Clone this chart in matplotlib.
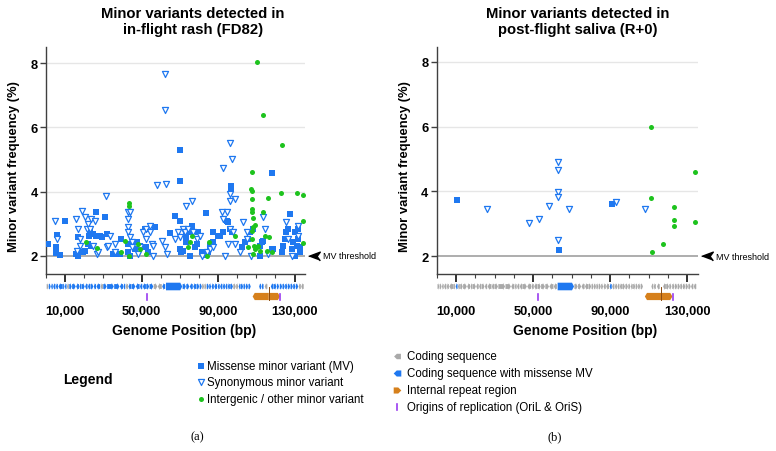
import numpy as np
import matplotlib
matplotlib.use('Agg')
import matplotlib.pyplot as plt
from matplotlib.patches import Polygon
from matplotlib.ticker import FixedLocator, FuncFormatter
from matplotlib.transforms import blended_transform_factory

plt.rcParams['font.family'] = ['Liberation Sans', 'DejaVu Sans']

BLUE = '#1f78f0'
GREEN = '#1ec31e'
GRAY = '#a9a9a9'
ORANGE = '#d6801c'
PURPLE = '#9a3cf0'

# ---- panel (a): in-flight rash FD82 ----
a_ms_x = [1220, 5230, 5230, 5500, 5900, 7300, 9930, 16000, 17000, 16550, 17800, 19500, 20400,
          22100, 22600, 23000, 23400, 24700, 26400, 28200, 29100, 26100, 30850, 31700, 35200,
          36600, 39500, 38700, 43000, 43000, 43900, 46500, 47400, 49100, 51800, 52600, 53500,
          57000, 67500, 70000, 64800, 70000, 70900, 71800, 73500, 73500, 76200, 75300, 75300,
          77900, 78800, 79700, 81400, 83100, 84900, 83700, 85800, 87500, 87500, 90100, 91000,
          92800, 94500, 95300, 96200, 97100, 96700, 96700, 102300, 104000, 105800, 106700,
          108400, 111900, 111900, 112800, 113600, 118000, 118900, 118200, 123200, 124100, 125000,
          125800, 126700, 127600, 128500, 129400, 130300, 130300, 131100, 131900, 131900,
          132800, 132800, 70000, 70100]
a_ms_y = [2.37, 2.27, 2.17, 2.09, 2.65, 2.03, 3.10, 2.06, 2.00, 2.58, 2.11, 2.11, 2.17,
          2.37, 2.63, 2.74, 2.30, 2.68, 2.63, 2.63, 2.58, 3.36, 3.20, 2.68, 2.06,
          2.06, 2.53, 2.06, 2.37, 2.11, 2.01, 2.22, 2.42, 2.32, 2.84, 2.27, 2.11,
          2.91, 3.25, 3.10, 2.70, 2.22, 2.11, 2.17, 2.42, 2.63, 2.94, 2.74, 1.99,
          2.27, 2.37, 2.74, 2.11, 2.03, 2.11, 3.34, 2.32, 2.42, 2.74, 2.63, 2.63,
          2.74, 3.10, 3.05, 2.84, 2.74, 4.18, 4.10, 2.27, 2.42, 2.53, 2.74,
          2.84, 1.99, 2.32, 2.42, 2.48, 2.22, 2.22, 4.58, 2.11, 2.32, 2.53,
          2.74, 2.84, 3.31, 2.22, 2.42, 2.74, 2.01, 2.32, 2.53, 2.84,
          2.11, 2.27, 5.30, 4.33]

a_syn_x = [4700, 5600, 16000, 17000, 17800, 17800, 16500, 18700, 20400, 21300, 22100, 23000,
           23800, 25600, 24700, 26600, 27400, 31400, 31700, 32600, 36100, 33500, 36100, 43000,
           43900, 43000, 43000, 43000, 43900, 44800, 44800, 48300, 49100, 50900, 52600, 52600,
           54400, 54400, 55300, 56100, 56100, 60500, 62200, 63100, 67500, 69200, 71800, 72700,
           73500, 76200, 74400, 77000, 78800, 80500, 81400, 84000, 85800, 87500, 91900, 92800,
           94500, 96200, 98000, 93600, 95300, 98800, 101400, 103100, 104900, 104900, 107500,
           113600, 114500, 116300, 125800, 126700, 128500, 131900, 131900, 57900, 62300, 62300,
           62700, 96250, 97100, 92600, 96500, 96500, 99000, 70100]
a_syn_y = [3.10, 2.53, 3.15, 2.84, 2.53, 2.32, 2.17, 3.41, 3.20, 2.84, 3.00, 2.84,
           3.15, 3.10, 2.32, 2.06, 2.11, 3.88, 2.27, 2.32, 2.37, 2.61, 2.11, 3.36,
           3.36, 3.15, 2.89, 2.74, 2.58, 2.42, 2.27, 2.06, 2.27, 2.74, 2.84, 2.53,
           2.94, 2.74, 2.37, 2.01, 2.32, 2.48, 2.27, 2.06, 2.53, 2.74, 2.84, 2.74,
           3.56, 3.72, 2.84, 2.74, 2.53, 2.63, 2.01, 2.11, 2.22, 2.27, 3.36, 3.15,
           3.36, 2.84, 2.74, 2.01, 2.37, 2.37, 2.11, 3.05, 2.74, 2.53, 2.01,
           3.20, 2.84, 2.06, 3.05, 2.53, 2.01, 2.63, 2.94, 4.21, 7.66, 6.54,
           4.24, 5.51, 5.02, 4.73, 3.92, 3.72, 3.77, 2.60]

a_ig_x = [20900, 26800, 39500, 41300, 43600, 43600, 43600, 48300, 49100, 52600, 75300, 76200,
          74400, 84000, 85400, 98800, 105800, 107700, 107500, 108000, 108000, 108000, 108000,
          108000, 108300, 108500, 108000, 108700, 109500, 110300, 111000, 110600, 113600,
          113600, 114500, 115400, 118000, 115900, 123200, 122900, 131400, 134200, 134200,
          134200, 108400, 109200, 112000, 116500]
a_ig_y = [2.42, 2.24, 2.11, 2.48, 3.65, 3.54, 2.01, 2.37, 2.22, 2.06, 2.42, 2.61,
          2.27, 2.01, 2.45, 2.63, 2.27, 4.01, 4.08, 2.53, 3.36, 3.77, 4.62, 3.46,
          3.17, 2.91, 2.79, 2.32, 2.22, 2.27, 2.32, 8.04, 6.38,
          3.36, 2.63, 2.17, 2.11, 3.80, 5.46, 3.95, 3.96, 3.90, 3.10,
          2.39, 2.05, 2.95, 2.15, 2.60]

# ---- panel (b): post-flight saliva R+0 ----
b_ms_x = [10350, 63700, 90800]
b_ms_y = [3.72, 2.19, 3.60]
b_syn_x = [25900, 48100, 53100, 58500, 62800, 62800, 62800, 62800, 62800, 68700, 92950, 108200]
b_syn_y = [3.47, 3.02, 3.14, 3.55, 4.90, 4.66, 3.98, 3.84, 2.49, 3.45, 3.67, 3.45]
b_ig_x = [111100, 111100, 111700, 117700, 123100, 123100, 123100, 134400, 134400]
b_ig_y = [5.99, 3.81, 2.13, 2.39, 3.53, 3.12, 2.93, 4.59, 3.07]

# ---- genome map ----
gene_start = [400, 1500, 2700, 3800, 5200, 6500, 9000, 9900, 11000, 12200, 13700, 15800, 17500,
              18800, 20500, 22000, 23400, 25000, 26400, 28600, 30000, 32000, 35700, 38700, 40500,
              41700, 43100, 44800, 47000, 49200, 50600, 52500, 54200, 56400, 58500, 60800, 62800,
              71500, 73400, 75200, 77000, 78800, 80400, 81700, 82900, 84100, 85400, 86600, 88000,
              89800, 91100, 92500, 93800, 95100, 96400, 98000, 99500, 100800, 102000, 103300,
              104600, 105900, 111500, 112700, 114400, 117600, 119200, 120800, 122300, 123700,
              125100, 126500, 127900, 129300, 130700, 132100, 133500]
gene_end = [1300, 2500, 3600, 5000, 6300, 8800, 9700, 10800, 12000, 13500, 15600, 17300, 18600,
            20300, 21800, 23200, 24800, 26200, 28400, 29800, 31800, 35500, 38500, 40300, 41500,
            42900, 44600, 46800, 49000, 50400, 52300, 54000, 56200, 58300, 60600, 62400, 71300,
            73200, 75000, 76800, 78600, 80200, 81500, 82700, 83900, 85200, 86400, 87800, 89500,
            90900, 92300, 93600, 94900, 96200, 97800, 99300, 100600, 101800, 103100, 104400,
            105700, 107100, 112500, 113800, 115800, 119000, 120600, 121900, 123500, 124900,
            126300, 127700, 129100, 130500, 131900, 133300, 134800]
gene_strand = [1, 1, -1, -1, -1, -1, 1, -1, -1, 1, 1, -1, -1,
               1, -1, -1, 1, -1, -1, -1, 1, 1, 1, -1, -1,
               -1, -1, 1, -1, -1, -1, 1, 1, 1, -1, -1, 1,
               1, 1, -1, -1, 1, 1, 1, 1, 1, 1, -1, -1,
               -1, -1, -1, -1, -1, 1, 1, 1, -1, 1, 1,
               1, 1, -1, -1, -1, -1, 1, 1, 1, 1,
               1, 1, 1, 1, 1, -1, -1]
gene_mv_a = [0, 1, 1, 1, 1, 1, 1, 1, 0, 1, 1, 1, 1,
             1, 1, 1, 1, 1, 1, 0, 1, 1, 1, 1, 1,
             0, 1, 1, 1, 1, 1, 1, 1, 0, 0, 1, 1,
             1, 1, 1, 1, 1, 1, 0, 0, 1, 1, 1, 1,
             1, 1, 1, 1, 1, 1, 0, 0, 1, 1, 1,
             1, 1, 1, 1, 0, 1, 1, 1, 1, 1,
             1, 1, 1, 1, 1, 0, 0]
gene_mv_b = [0] * len(gene_start)
gene_mv_b[7] = 1
gene_mv_b[36] = 1
gene_mv_b[49] = 1

repeat_start, repeat_mid, repeat_end = 108100, 116500, 122400
ori_pos = [52700, 122600]


def gene_poly(s, e, strand, yc, bh, hh):
    hl = min(1100, 0.6 * (e - s))
    if strand > 0:
        pts = [(s, yc - bh), (e - hl, yc - bh), (e - hl, yc - hh), (e, yc),
               (e - hl, yc + hh), (e - hl, yc + bh), (s, yc + bh)]
    else:
        pts = [(e, yc - bh), (s + hl, yc - bh), (s + hl, yc - hh), (s, yc),
               (s + hl, yc + hh), (s + hl, yc + bh), (e, yc + bh)]
    return pts


fig = plt.figure(figsize=(7.76, 4.52), dpi=100)


def panel(x0, x1, xmax, ymin, ymax, ms, syn, ig, mv, title, title_x, ylab_x, xlab_x, tag_x, tag):
    W, H = 776, 452
    ax = fig.add_axes([x0 / W, 1 - 275 / H, (x1 - x0) / W, (275 - 48) / H])
    ax.set_xlim(0, xmax)
    ax.set_ylim(ymin, ymax)
    for s in ['top', 'right']:
        ax.spines[s].set_visible(False)
    for s in ['left', 'bottom']:
        ax.spines[s].set_color('#404040')
        ax.spines[s].set_linewidth(1)
    for yv in [4, 6, 8]:
        ax.axhline(yv, color='#e6e6e6', lw=1, zorder=0)
    ax.axhline(2, color='#a0a0a0', lw=1.2, zorder=0)

    ax.scatter(ms[0], ms[1], marker='s', s=13, color=BLUE, lw=0, zorder=3)
    ax.scatter(syn[0], syn[1], marker='v', s=19, facecolor='white', edgecolor=BLUE, lw=0.9, zorder=4)
    ax.scatter(ig[0], ig[1], marker='o', s=13, color=GREEN, lw=0, zorder=5)

    ax.set_yticks([2, 4, 6, 8])
    ax.tick_params(axis='y', length=4, width=1, color='#404040', labelsize=9.3, pad=2)
    for lb in ax.get_yticklabels():
        lb.set_fontweight('bold')
    ax.xaxis.set_major_locator(FixedLocator([10000, 50000, 90000, 130000]))
    ax.xaxis.set_minor_locator(FixedLocator([0, 20000, 30000, 40000, 60000, 70000, 80000,
                                             100000, 110000, 120000]))
    ax.xaxis.set_major_formatter(FuncFormatter(lambda v, p: f'{int(v):,}'))
    ax.tick_params(axis='x', which='major', length=6, width=1.4, color='#303030',
                   labelsize=9.3, pad=16.5)
    ax.tick_params(axis='x', which='minor', length=3, width=0.8, color='#404040')
    for lb in ax.get_xticklabels():
        lb.set_fontweight('bold')

    # threshold marker
    tr = blended_transform_factory(ax.transAxes, ax.transData)
    arrow = [(-1, 0), (1, 0.75), (0.45, 0), (1, -0.75)]
    ax.scatter([1.036], [2], marker=arrow, s=70, color='black', transform=tr, clip_on=False)
    ax.text(1.069, 2, 'MV threshold', transform=tr, fontsize=6.5, va='center', ha='left')

    # genome track
    tk = fig.add_axes([x0 / W, 1 - 302 / H, (x1 - x0) / W, 22 / H])
    tk.set_xlim(0, xmax)
    tk.set_ylim(22, 0)
    tk.axis('off')
    for s, e, st, m in zip(gene_start, gene_end, gene_strand, mv):
        big = (e - s) > 5000
        bh = 3.8 if big else 2.4
        hh = 4.0 if big else 3.6
        tk.add_patch(Polygon(gene_poly(s, e, st, 7.5, bh, hh), closed=True,
                             facecolor=BLUE if m else GRAY, edgecolor='none'))
    tk.add_patch(Polygon(gene_poly(repeat_start, repeat_mid, -1, 17.5, 3.6, 3.6), closed=True,
                         facecolor=ORANGE, edgecolor='none'))
    tk.add_patch(Polygon(gene_poly(repeat_mid, repeat_end, 1, 17.5, 3.6, 3.6), closed=True,
                         facecolor=ORANGE, edgecolor='none'))
    tk.plot([repeat_mid, repeat_mid], [8, 21.5], color='#8a4a10', lw=0.7)
    for o in ori_pos:
        tk.plot([o, o], [14.5, 20.5], color=PURPLE, lw=1.2)

    fig.text(title_x / W, 1 - 22 / H, title, ha='center', va='center', fontsize=10.7,
             fontweight='bold', linespacing=1.1)
    fig.text(ylab_x / W, 1 - 167 / H, 'Minor variant frequency (%)', rotation=90,
             ha='center', va='center', fontsize=9.4, fontweight='bold')
    fig.text(xlab_x / W, 1 - 331 / H, 'Genome Position (bp)', ha='center', va='center',
             fontsize=10, fontweight='bold')
    fig.text(tag_x / W, 1 - 437 / H, tag, ha='center', va='center', fontsize=9,
             family=['Liberation Serif', 'DejaVu Serif'])


panel(45.9, 305, 135480, 1.44, 8.5, (a_ms_x, a_ms_y), (a_syn_x, a_syn_y), (a_ig_x, a_ig_y),
      gene_mv_a, 'Minor variants detected in\nin-flight rash (FD82)', 193, 14, 184, 197, '(a)')
panel(436.75, 698, 135700, 1.45, 8.46, (b_ms_x, b_ms_y), (b_syn_x, b_syn_y), (b_ig_x, b_ig_y),
      gene_mv_b, 'Minor variants detected in\npost-flight saliva (R+0)', 578, 405, 585, 555, '(b)')

# ---- legends ----
lg = fig.add_axes([0, 0, 1, 1], zorder=-1)
lg.set_xlim(0, 776)
lg.set_ylim(452, 0)
lg.axis('off')
lg.text(88, 380, 'Legend', ha='center', va='center', fontsize=10, fontweight='bold')
lg.scatter([201], [367], marker='s', s=13, color=BLUE, lw=0)
lg.scatter([201], [383], marker='v', s=19, facecolor='white', edgecolor=BLUE, lw=0.9)
lg.scatter([201], [400], marker='o', s=13, color=GREEN, lw=0)
for yy, t in zip([367, 383, 400], ['Missense minor variant (MV)', 'Synonymous minor variant',
                                  'Intergenic / other minor variant']):
    lg.text(207, yy, t, ha='left', va='center', fontsize=8.3)

left_icon = [(-1, 0), (-0.2, 0.8), (1, 0.8), (1, -0.8), (-0.2, -0.8)]
right_icon = [(1, 0), (0.2, 0.8), (-1, 0.8), (-1, -0.8), (0.2, -0.8)]
lg.scatter([397], [357], marker=left_icon, s=24, color=GRAY, lw=0)
lg.scatter([397], [374], marker=left_icon, s=30, color=BLUE, lw=0)
lg.scatter([397], [391], marker=right_icon, s=30, color=ORANGE, lw=0)
lg.plot([397, 397], [405, 411], color=PURPLE, lw=1.2)
for yy, t in zip([357, 374, 391, 408], ['Coding sequence', 'Coding sequence with missense MV',
                                       'Internal repeat region',
                                       'Origins of replication (OriL & OriS)']):
    lg.text(407, yy, t, ha='left', va='center', fontsize=8.3)

fig.savefig('out.png', dpi=100)
